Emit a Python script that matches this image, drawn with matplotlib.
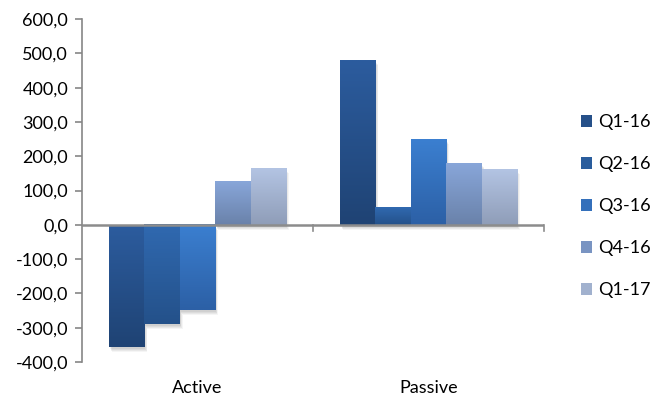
import numpy as np
import matplotlib
matplotlib.use("Agg")
import matplotlib.pyplot as plt
from matplotlib.colors import to_rgb
from matplotlib.patches import Rectangle
import matplotlib.transforms as mtransforms

plt.rcParams['font.family'] = ['Lato', 'DejaVu Sans']

categories = ["Active", "Passive"]
series = ["Q1-16", "Q2-16", "Q3-16", "Q4-16", "Q1-17"]
q1_16 = [-355.0, 481.0]
q2_16 = [-290.0, 52.0]
q3_16 = [-248.0, 250.0]
q4_16 = [128.0, 180.0]
q1_17 = [166.0, 163.0]
values = [q1_16, q2_16, q3_16, q4_16, q1_17]

y_ticks = [-400, -300, -200, -100, 0, 100, 200, 300, 400, 500, 600]

# gradient colours (top, bottom) per series
top_colors = ["#2c5c9e", "#3069b0", "#3b7fd0", "#88a6d9", "#b3c4e3"]
bot_colors = ["#1f4374", "#24518a", "#2c60a6", "#6a82aa", "#8f9db8"]

FS = 13

fig = plt.figure(figsize=(6.54, 3.98), dpi=100)
ax = fig.add_axes([0.1254, 0.0905, 0.7064, 0.8615])
ax.set_xlim(-0.5, 1.5)
ax.set_ylim(-400, 600)

n = len(series)
group_w = 0.766
bw = group_w / n
x = np.arange(len(categories))

ylo, yhi = ax.get_ylim()
px_per_unit_y = (0.8615 * 398) / (yhi - ylo)
px_per_unit_x = (0.7064 * 654) / 2.0


def gradient(c_top, c_bot, steps=64):
    t = np.linspace(0, 1, steps)[:, None]
    a = np.array(to_rgb(c_top))
    b = np.array(to_rgb(c_bot))
    return (a * (1 - t) + b * t)[:, None, :]


for i, (vals, ct, cb) in enumerate(zip(values, top_colors, bot_colors)):
    for j, v in enumerate(vals):
        left = x[j] - group_w / 2 + i * bw
        lo, hi = min(0, v), max(0, v)
        # soft drop shadow
        for k, a in enumerate([0.05, 0.05, 0.05, 0.04]):
            dx = (1.5 + k) / px_per_unit_x
            dy = (2 + k) / px_per_unit_y
            ax.add_patch(Rectangle((left + dx * 0.6, lo - dy), bw, hi - lo,
                                   facecolor="black", alpha=a, lw=0, zorder=1))
        ax.imshow(gradient(ct, cb), extent=(left, left + bw, lo, hi),
                  aspect="auto", zorder=2 + i * 0.01, interpolation="bilinear")

ax.set_xlim(-0.5, 1.5)
ax.set_ylim(-400, 600)

axis_gray = "#868686"
for s in ["top", "right", "bottom"]:
    ax.spines[s].set_visible(False)
ax.spines["left"].set_color(axis_gray)
ax.spines["left"].set_linewidth(1.2)

ax.axhline(0, color="#8c8c8c", lw=1.8, zorder=5)
for xb in [0.5, 1.5]:
    ax.plot([xb, xb], [0, -6 / px_per_unit_y], color="#8c8c8c", lw=1.2,
            zorder=5, clip_on=False)

ax.set_yticks(y_ticks)
ax.set_yticklabels([f"{t:.1f}".replace(".", ",") for t in y_ticks],
                   fontsize=FS, color="#000000")
ax.tick_params(axis="y", direction="out", length=5, width=1.2,
               color=axis_gray, pad=5)
ax.set_xticks([])

trans = mtransforms.blended_transform_factory(ax.transData, fig.transFigure)
for j, c in enumerate(categories):
    ax.text(x[j], 1 - 388 / 398, c, transform=trans, ha="center", va="center",
            fontsize=FS, color="#000000")

handles = [Rectangle((0, 0), 1, 1, facecolor=gradient(ct, cb, 3)[1, 0], lw=0)
           for ct, cb in zip(top_colors, bot_colors)]
fig.legend(handles, series, loc="center left", bbox_to_anchor=(0.878, 0.482),
           frameon=False, fontsize=FS, handlelength=0.6, handleheight=0.6,
           handletextpad=0.3, labelspacing=1.44, borderaxespad=0)

fig.savefig("out.png", dpi=100)
